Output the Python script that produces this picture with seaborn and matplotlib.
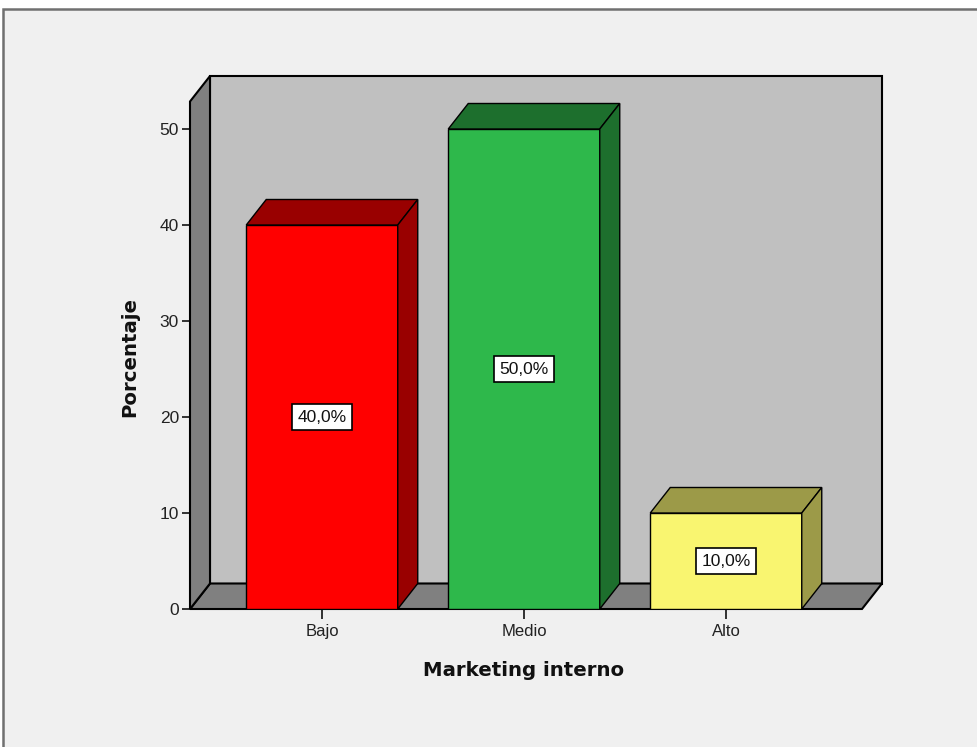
import matplotlib
matplotlib.use("Agg")
import matplotlib.pyplot as plt
import seaborn as sns
import pandas as pd
from matplotlib.patches import Polygon, Rectangle

categories = ["Bajo", "Medio", "Alto"]
values = [40.0, 50.0, 10.0]
labels = ["40,0%", "50,0%", "10,0%"]
front_colors = ["#ff0000", "#2eb84b", "#f9f570"]
dark_colors = ["#990000", "#1d6f2d", "#9c9a48"]
yticks = [0, 10, 20, 30, 40, 50]

sns.set_style("white")
plt.rcParams["font.family"] = ["Liberation Sans", "DejaVu Sans"]

W, H = 977, 747
fig = plt.figure(figsize=(W / 100, H / 100), dpi=100, facecolor="white")

# outer frame
frame = Rectangle((3 / W, -0.01), 1.0, 1 - 9 / H + 0.01, transform=fig.transFigure,
                  facecolor="#f0f0f0", edgecolor="#707070", linewidth=1.8, zorder=-5)
fig.add_artist(frame)

pxx, pxy = 202.0, 9.6           # pixels per category unit / per value unit
L, R, B, T = 190, 882, 609, 76  # axes pixel box
ax = fig.add_axes([L / W, 1 - B / H, (R - L) / W, (B - T) / H])
ax.set_facecolor("none")
ax.patch.set_visible(False)

df = pd.DataFrame({"cat": categories, "val": values})
sns.barplot(data=df, x="cat", y="val", hue="cat", palette=front_colors, width=0.75,
            edgecolor="black", linewidth=1.0, legend=False, ax=ax, zorder=5, saturation=1)

xl = -(322 - L) / pxx
xr = 2 + (R - 726) / pxx
ytop = (B - T) / pxy
DX, DY = 20 / pxx, 25.5 / pxy
ax.set_xlim(xl, xr)
ax.set_ylim(0, ytop)

# walls
ax.add_patch(Rectangle((xl + DX, DY), xr - xl - DX, ytop - DY, facecolor="#c0c0c0",
                       edgecolor="black", linewidth=1.5, zorder=1, clip_on=False))
ax.add_patch(Polygon([(xl, 0), (xl + DX, DY), (xl + DX, ytop), (xl, ytop - DY)], closed=True,
                     facecolor="#808080", edgecolor="black", linewidth=1.5, zorder=1.2, clip_on=False))
ax.add_patch(Polygon([(xl, 0), (xr - DX, 0), (xr, DY), (xl + DX, DY)], closed=True,
                     facecolor="#808080", edgecolor="black", linewidth=1.5, zorder=1.1, clip_on=False))

# 3D faces for bars
bars = [p for p in ax.patches if isinstance(p, Rectangle) and p.get_zorder() == 5]
for p, dc, lab in zip(bars, dark_colors, labels):
    x0, w, h = p.get_x(), p.get_width(), p.get_height()
    ax.add_patch(Polygon([(x0, h), (x0 + DX, h + DY), (x0 + w + DX, h + DY), (x0 + w, h)], closed=True,
                         facecolor=dc, edgecolor="black", linewidth=1.0, zorder=5, clip_on=False))
    ax.add_patch(Polygon([(x0 + w, 0), (x0 + w + DX, DY), (x0 + w + DX, h + DY), (x0 + w, h)], closed=True,
                         facecolor=dc, edgecolor="black", linewidth=1.0, zorder=5, clip_on=False))
    ax.text(x0 + w / 2, h / 2, lab, ha="center", va="center", fontsize=12.5, zorder=7, color="#111111",
            bbox=dict(boxstyle="square,pad=0.3", facecolor="white", edgecolor="black", linewidth=1.2))

for s in ax.spines.values():
    s.set_visible(False)
ax.set_yticks(yticks)
ax.set_yticklabels([str(v) for v in yticks], fontsize=12.5)
ax.tick_params(axis="y", direction="out", length=6, width=1.3, color="#222222", pad=2, left=True,
               labelcolor="#222222")
ax.tick_params(axis="x", direction="out", length=7, width=1.3, color="#222222", pad=4, bottom=True,
               labelcolor="#222222")
ax.set_xticks(range(len(categories)))
ax.set_xticklabels(categories, fontsize=12)

ax.set_xlabel("")
ax.set_ylabel("")
fig.text(524 / W, 1 - 670 / H, "Marketing interno", ha="center", va="center",
         fontsize=14.2, fontweight="bold", family=["DejaVu Sans"], color="#111111")
fig.text(130 / W, 1 - 357 / H, "Porcentaje", ha="center", va="center", rotation=90,
         fontsize=14.2, fontweight="bold", family=["DejaVu Sans"], color="#111111")

fig.savefig("out.png", dpi=100, facecolor="white")
